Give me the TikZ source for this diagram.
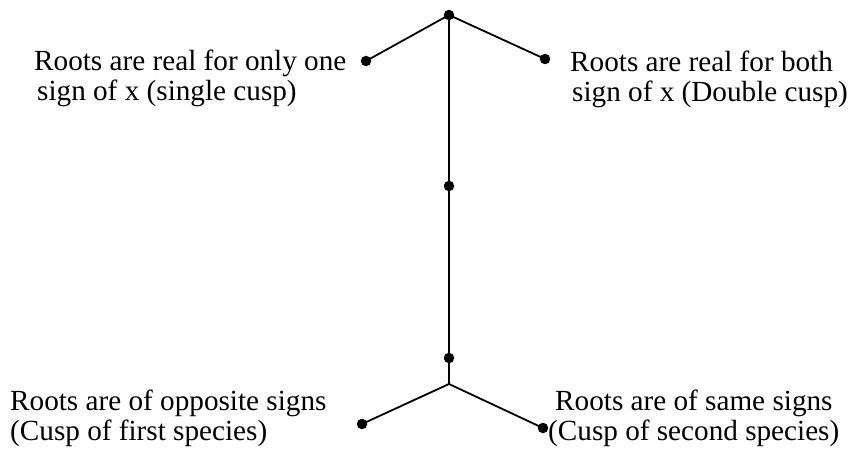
\documentclass[tikz,border=0pt]{standalone}
\usepackage{fontspec}
\setmainfont{Liberation Serif}
\begin{document}
\begin{tikzpicture}[x=1pt,y=-1pt,
  dot/.style={circle,fill=black,inner sep=0pt,minimum size=10.5pt},
  conn/.style={line width=1.8pt},
  lbl/.style={inner sep=0pt,anchor=base west,align=left,font=\fontsize{29.2}{30}\selectfont}]
\useasboundingbox (0,0) rectangle (854,449);
\node[dot] (top) at (449,15) {};
\node[dot] (tl) at (366,61) {};
\node[dot] (tr) at (545,59) {};
\node[dot] (mid) at (449,186) {};
\node[dot] (low) at (449,358) {};
\coordinate (junc) at (449,384);
\node[dot] (bl) at (362,424) {};
\node[dot] (br) at (543,428) {};
\draw[conn] (top.center) -- (tl.center);
\draw[conn] (top.center) -- (tr.center);
\draw[conn] (top.center) -- (mid.center) -- (low.center) -- (junc);
\draw[conn] (junc) -- (bl.center);
\draw[conn] (junc) -- (br.center);
\node[lbl] (ltl) at (34,101) {Roots are real for only one\\\hspace*{3pt}sign of x (single cusp)};
\node[lbl] (ltr) at (570,102) {Roots are real for both\\\hspace*{2pt}sign of x (Double cusp)};
\node[lbl] (lbl) at (10,440) {Roots are of opposite signs\\(Cusp of first species)};
\node[lbl] (lbr) at (548,440) {\hspace*{7pt}Roots are of same signs\\(Cusp of second species)};
\end{tikzpicture}
\end{document}
